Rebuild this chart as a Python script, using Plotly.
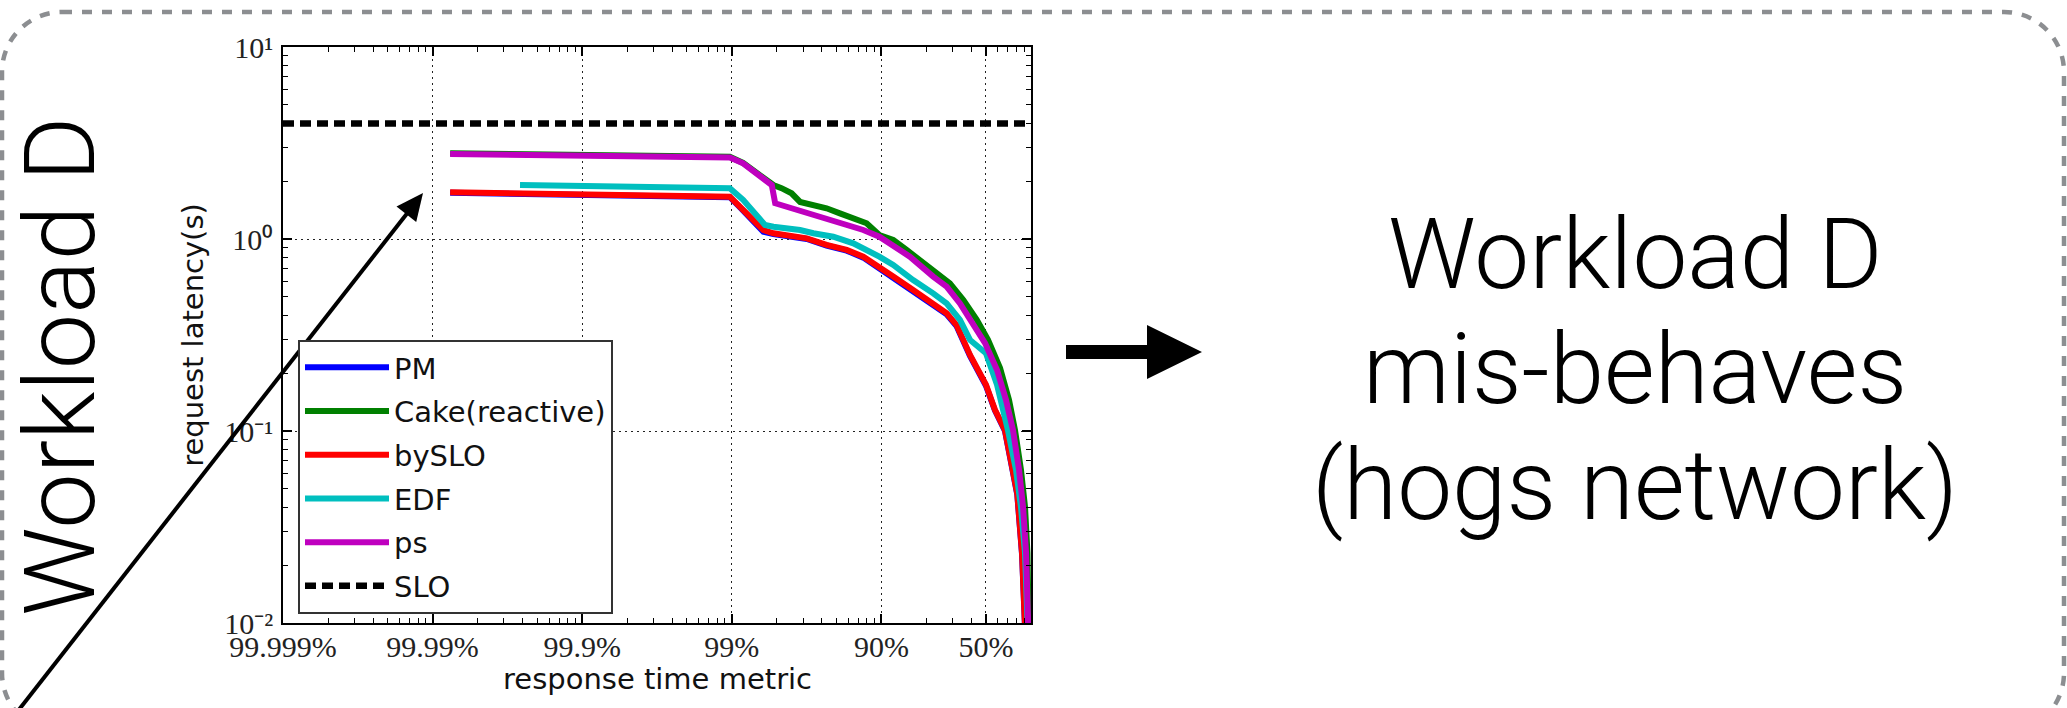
import math
import plotly.graph_objects as go

# ---------------- data (x = tail fraction 1 - percentile, y = latency in s) ----------------
pm_q = [1.31e-4, 2.84e-3, 0.0097, 0.01135, 0.01393, 0.01626, 0.01897, 0.0233, 0.0317, 0.043,
        0.0586, 0.0757, 0.0969, 0.120, 0.163, 0.222, 0.273, 0.318, 0.391, 0.50, 0.574,
        0.67, 0.762, 0.81, 0.871, 0.927, 0.955]
pm_v = [1.74, 1.68, 1.65, 1.46, 1.24, 1.09, 1.06, 1.04, 1.00, 0.925,
        0.870, 0.800, 0.700, 0.630, 0.536, 0.457, 0.405, 0.352, 0.246, 0.172, 0.128,
        0.100, 0.0620, 0.0465, 0.0228, 0.0103, 0.004]

cake_q = [1.31e-4, 1.31e-3, 0.0097, 0.0119, 0.0163, 0.01897, 0.0215, 0.0251, 0.0286, 0.0351,
          0.043, 0.0528, 0.0649, 0.0797, 0.0969, 0.120, 0.1475, 0.181, 0.222, 0.287, 0.353,
          0.434, 0.516, 0.621, 0.713, 0.782, 0.857, 0.912, 0.947, 0.970, 0.984]
cake_v = [2.80, 2.73, 2.68, 2.49, 2.08, 1.91, 1.84, 1.73, 1.56, 1.50,
          1.445, 1.36, 1.28, 1.208, 1.049, 0.988, 0.877, 0.778, 0.690, 0.587, 0.481,
          0.379, 0.298, 0.213, 0.145, 0.101, 0.0627, 0.0402, 0.0231, 0.0104, 0.004]

byslo_q = [1.31e-4, 2.84e-3, 0.0097, 0.01135, 0.01393, 0.01626, 0.01897, 0.0233, 0.0317, 0.043,
           0.0586, 0.0757, 0.0969, 0.120, 0.163, 0.222, 0.273, 0.318, 0.391, 0.50, 0.574,
           0.67, 0.762, 0.81, 0.871, 0.927, 0.955]
byslo_v = [1.75, 1.69, 1.66, 1.47, 1.256, 1.114, 1.071, 1.049, 1.008, 0.931,
           0.877, 0.809, 0.718, 0.637, 0.542, 0.462, 0.410, 0.356, 0.249, 0.174, 0.129,
           0.101, 0.0627, 0.047, 0.0231, 0.0104, 0.004]

edf_q = [3.84e-4, 2.84e-3, 0.0097, 0.0119, 0.01465, 0.01667, 0.01897, 0.0233, 0.0286, 0.0351,
         0.0477, 0.0649, 0.0797, 0.0969, 0.120, 0.163, 0.222, 0.273, 0.335, 0.391, 0.50,
         0.593, 0.701, 0.794, 0.857, 0.912, 0.947, 0.970]
edf_v = [1.91, 1.87, 1.84, 1.60, 1.306, 1.183, 1.158, 1.137, 1.114, 1.071,
         1.028, 0.950, 0.877, 0.809, 0.733, 0.611, 0.521, 0.462, 0.379, 0.298, 0.254,
         0.174, 0.101, 0.0627, 0.0402, 0.0231, 0.0104, 0.004]

ps_q = [1.31e-4, 1.31e-3, 0.0097, 0.0119, 0.0163, 0.0185, 0.0195, 0.0233, 0.0317, 0.0389,
        0.0529, 0.0757, 0.0969, 0.114, 0.155, 0.222, 0.273, 0.335, 0.411, 0.493, 0.593,
        0.681, 0.758, 0.832, 0.885, 0.927, 0.955, 0.970]
ps_v = [2.77, 2.71, 2.66, 2.48, 2.07, 1.91, 1.535, 1.47, 1.387, 1.306,
        1.208, 1.114, 1.028, 0.950, 0.809, 0.637, 0.565, 0.462, 0.364, 0.287, 0.208,
        0.145, 0.101, 0.0627, 0.0402, 0.0231, 0.0104, 0.004]

slo_q = [1e-5, 1.0]
slo_v = [4.0, 4.0]

x_tick_vals = [1e-5, 1e-4, 1e-3, 1e-2, 1e-1, 0.5]
x_tick_text = ["99.999%", "99.99%", "99.9%", "99%", "90%", "50%"]
y_tick_vals = [0.01, 0.1, 1, 10]
y_tick_text = ["10\u207b\u00b2", "10\u207b\u00b9", "10\u2070", "10\u00b9"]

series = [
    ("PM", pm_q, pm_v, "#0000ff", "solid", 6),
    ("Cake(reactive)", cake_q, cake_v, "#008000", "solid", 6),
    ("bySLO", byslo_q, byslo_v, "#ff0000", "solid", 6),
    ("EDF", edf_q, edf_v, "#00bfbf", "solid", 6),
    ("ps", ps_q, ps_v, "#bf00bf", "solid", 6),
    ("SLO", slo_q, slo_v, "#000000", "11px,6px", 6.5),
]

# ---------------- geometry ----------------
W, H = 2067, 708
L, R, T, B = 283, 1031, 47, 623


def px(x):
    return (x - L) / (R - L)


def py(y):
    return (B - y) / (B - T)


fig = go.Figure()
for i, (name, q, v, color, dash, lw) in enumerate(series):
    fig.add_trace(go.Scatter(
        x=q, y=v, mode="lines", name=name, legendgroup="g%d" % i,
        line=dict(color=color, width=lw, dash=dash),
    ))

minor_x = [k * 10.0 ** e for e in range(-5, 0) for k in range(2, 10)]
minor_y = [k * 10.0 ** e for e in range(-2, 1) for k in range(2, 10)]

tick_font = dict(family="Liberation Serif", size=30, color="#222")
axis_common = dict(
    showline=True, linecolor="black", linewidth=1.5, mirror="allticks",
    ticks="inside", ticklen=9, tickwidth=1.5, tickcolor="black",
    showgrid=True, gridcolor="#222", gridwidth=1, griddash="2px,4px",
    zeroline=False, tickfont=tick_font,
)

fig.update_xaxes(
    type="log", range=[-5, 0], tickmode="array", tickvals=x_tick_vals, ticktext=x_tick_text,
    minor=dict(tickmode="array", tickvals=minor_x, ticks="inside", ticklen=5,
               tickwidth=1.2, tickcolor="black", showgrid=False),
    ticklabelstandoff=-4,
    **axis_common,
)
fig.update_yaxes(
    type="log", range=[-2, 1], tickmode="array", tickvals=y_tick_vals, ticktext=y_tick_text,
    minor=dict(tickmode="array", tickvals=minor_y, ticks="inside", ticklen=5,
               tickwidth=1.2, tickcolor="black", showgrid=False),
    title=dict(text="request latency(s)", standoff=12,
               font=dict(family="DejaVu Sans", size=29, color="#111")),
    ticklabelstandoff=2,
    **axis_common,
)

# x-axis title placed under the tick labels
fig.add_annotation(x=0.5, y=py(679), xref="paper", yref="paper", text="response time metric",
                   showarrow=False, font=dict(family="DejaVu Sans", size=29, color="#111"),
                   xanchor="center", yanchor="middle")

# rounded dashed frame
x0, x1, y0, y1, r = 2, 2064, 12, 733, 60
c = 0.5523 * r
frame = (
    f"M{px(x0 + r)},{py(y0)} L{px(x1 - r)},{py(y0)} "
    f"C{px(x1 - r + c)},{py(y0)} {px(x1)},{py(y0 + r - c)} {px(x1)},{py(y0 + r)} "
    f"L{px(x1)},{py(y1 - r)} "
    f"C{px(x1)},{py(y1 - r + c)} {px(x1 - r + c)},{py(y1)} {px(x1 - r)},{py(y1)} "
    f"L{px(x0 + r)},{py(y1)} "
    f"C{px(x0 + r - c)},{py(y1)} {px(x0)},{py(y1 - r + c)} {px(x0)},{py(y1 - r)} "
    f"L{px(x0)},{py(y0 + r)} "
    f"C{px(x0)},{py(y0 + r - c)} {px(x0 + r - c)},{py(y0)} {px(x0 + r)},{py(y0)} Z"
)
fig.add_shape(type="path", path=frame, xref="paper", yref="paper",
              line=dict(color="#8c8e91", width=4.5, dash="10px,10px"), layer="below")

# thick right arrow
arrow = (
    f"M{px(1066)},{py(345)} L{px(1147)},{py(345)} L{px(1147)},{py(325)} "
    f"L{px(1202)},{py(352)} L{px(1147)},{py(379)} L{px(1147)},{py(359)} L{px(1066)},{py(359)} Z"
)
fig.add_shape(type="path", path=arrow, xref="paper", yref="paper",
              fillcolor="black", line=dict(width=0))

# thin diagonal arrow pointing at the chart (line + triangular head)
tip = (423, 193)
tail = (14, 716)
dx, dy = tip[0] - tail[0], tip[1] - tail[1]
ln = math.hypot(dx, dy)
ux, uy = dx / ln, dy / ln
nx, ny = -uy, ux
head_len, head_half = 27, 12.5
bx, by = tip[0] - head_len * ux, tip[1] - head_len * uy
fig.add_shape(type="line", xref="paper", yref="paper",
              x0=px(tail[0]), y0=py(tail[1]), x1=px(bx + 2 * ux), y1=py(by + 2 * uy),
              line=dict(color="black", width=4))
head = (
    f"M{px(tip[0])},{py(tip[1])} L{px(bx + head_half * nx)},{py(by + head_half * ny)} "
    f"L{px(bx - head_half * nx)},{py(by - head_half * ny)} Z"
)
fig.add_shape(type="path", path=head, xref="paper", yref="paper",
              fillcolor="black", line=dict(width=0))

big_font = dict(family="Roboto", size=99, color="black", weight=300)

fig.add_annotation(x=px(60), y=py(366), xref="paper", yref="paper", text="Workload D",
                   textangle=-90, showarrow=False, font=big_font,
                   xanchor="center", yanchor="middle")

right_font = dict(family="Roboto", size=98, color="black", weight=300)
right_lines = ["Workload D", "mis-behaves", "(hogs network)"]
right_y = [254, 369, 485]
for txt, yy in zip(right_lines, right_y):
    fig.add_annotation(x=px(1635), y=py(yy), xref="paper", yref="paper", text=txt,
                       showarrow=False, font=right_font, xanchor="center", yanchor="middle")

fig.update_layout(
    width=W, height=H, autosize=False,
    margin=dict(l=L, r=W - R, t=T, b=H - B, pad=0),
    paper_bgcolor="white", plot_bgcolor="white",
    showlegend=True,
    legend=dict(x=px(298), y=py(340), xanchor="left", yanchor="top",
                bgcolor="white", bordercolor="#333", borderwidth=2,
                font=dict(family="DejaVu Sans", size=29, color="#111"),
                itemwidth=84, tracegroupgap=3),
)

fig.write_html("out.html")
